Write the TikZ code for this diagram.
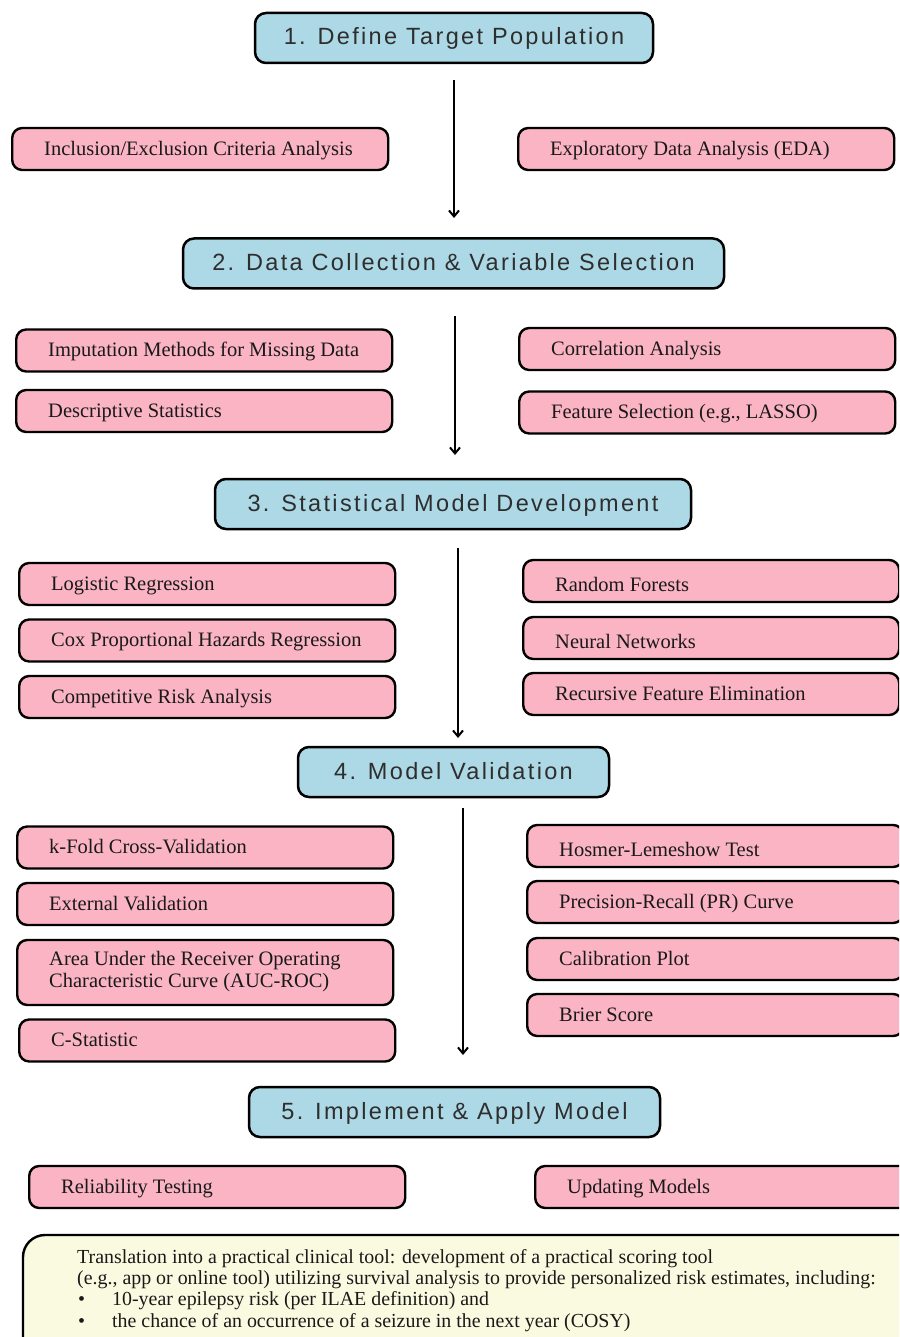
\documentclass[tikz,border=0pt]{standalone}
\usepackage{fontspec}
\setmainfont{Liberation Serif}
\newfontfamily\hdfont[LetterSpace=10]{Liberation Sans}
\usetikzlibrary{arrows.meta}
\definecolor{hdblue}{HTML}{ADD8E6}
\definecolor{boxpink}{HTML}{FBB4C3}
\definecolor{noteyellow}{HTML}{FAFAE1}
\definecolor{hdtext}{HTML}{2E2E2E}
\newcommand{\bxt}[1]{\makebox[312pt][l]{#1}}
\begin{document}
\begin{tikzpicture}[x=1pt,y=-1pt,
  header/.style={draw=black, line width=2.5pt, fill=hdblue, rounded corners=11pt,
    minimum height=50pt, inner sep=0pt, text height=19pt, text depth=5pt,
    font=\hdfont\fontsize{23.5}{26}\selectfont, text=hdtext},
  pinkbase/.style={draw=black, line width=2.4pt, fill=boxpink, rounded corners=10pt,
    minimum width=376pt, minimum height=42pt, inner xsep=32pt, inner ysep=0pt,
    align=left, anchor=west, font=\fontsize{20.5}{22}\selectfont, text=black!90},
  pinkbox/.style={pinkbase, text height=16.6pt, text depth=4pt},
  pinklow/.style={pinkbase, text height=25pt, text depth=4pt},
  flow/.style={line width=2pt, -{Straight Barb[length=6pt,width=10pt]}}
]
\useasboundingbox (0,0) rectangle (899,1337);
\clip (0,0) rectangle (899,1337);
\fill[white] (0,0) rectangle (899,1337);

% headers
\node[header, minimum width=398pt] (h1) at (454,38) {1. Define Target Population};
\node[header, minimum width=541pt] (h2) at (453.5,263.5) {2. Data Collection \& Variable Selection};
\node[header, minimum width=476pt] (h3) at (453,504) {3. Statistical Model Development};
\node[header, minimum width=311pt] (h4) at (453.5,772) {4. Model Validation};
\node[header, minimum width=411pt] (h5) at (454.5,1112) {5. Implement \& Apply Model};

% arrows
\coordinate (a1s) at (454,80);  \coordinate (a1e) at (454,218);
\coordinate (a2s) at (455,316); \coordinate (a2e) at (455,455);
\coordinate (a3s) at (458,548); \coordinate (a3e) at (458,738);
\coordinate (a4s) at (463,808); \coordinate (a4e) at (463,1055);
\draw[flow] (a1s) -- (a1e);
\draw[flow] (a2s) -- (a2e);
\draw[flow] (a3s) -- (a3e);
\draw[flow] (a4s) -- (a4e);

% stage 1
\node[pinkbox] (incl) at (11,149) {\bxt{Inclusion/Exclusion Criteria Analysis}};
\node[pinkbox] (eda) at (517,149) {\bxt{Exploratory Data Analysis (EDA)}};

% stage 2
\node[pinkbox] (imp) at (15,350.5) {\bxt{Imputation Methods for Missing Data}};
\node[pinkbox] (desc) at (15,411) {\bxt{Descriptive Statistics}};
\node[pinkbox] (corr) at (518,349) {\bxt{Correlation Analysis}};
\node[pinkbox] (feat) at (518,412.5) {\bxt{Feature Selection (e.g., LASSO)}};

% stage 3
\node[pinkbox] (logr) at (18,584) {\bxt{Logistic Regression}};
\node[pinkbox] (cox) at (18,640.5) {\bxt{Cox Proportional Hazards Regression}};
\node[pinkbox] (comp) at (18,697) {\bxt{Competitive Risk Analysis}};
\node[pinklow] (rf) at (522,581) {\bxt{Random Forests}};
\node[pinklow] (nn) at (522,638) {\bxt{Neural Networks}};
\node[pinkbox] (rfe) at (522,694) {\bxt{Recursive Feature Elimination}};

% stage 4
\node[pinkbox] (kfold) at (16,847.5) {\bxt{k-Fold Cross-Validation}};
\node[pinkbox] (ext) at (16,904) {\bxt{External Validation}};
\node[pinkbase, minimum height=65pt] (auc) at (16,972.5) {\bxt{\begin{tabular}{@{}l@{}}Area Under the Receiver Operating\\Characteristic Curve (AUC-ROC)\end{tabular}}};
\node[pinkbox] (cstat) at (18,1040.5) {\bxt{C-Statistic}};
\node[pinklow] (hos) at (526,846) {\bxt{Hosmer-Lemeshow Test}};
\node[pinkbox] (prc) at (526,902) {\bxt{Precision-Recall (PR) Curve}};
\node[pinkbox] (cal) at (526,959) {\bxt{Calibration Plot}};
\node[pinkbox] (brier) at (526,1015) {\bxt{Brier Score}};

% stage 5
\node[pinkbox] (rel) at (28,1187) {\bxt{Reliability Testing}};
\node[pinkbox] (upd) at (534,1187) {\bxt{Updating Models}};

% bottom note
\draw[line width=2.4pt, fill=noteyellow, rounded corners=22pt] (23,1235) rectangle (940,1380);
\node[anchor=north west, inner sep=0pt, align=left, font=\fontsize{19.9}{21.3}\selectfont, text=black!90] (note) at (77,1249)
{Translation into a practical clinical tool: development of a practical scoring tool\\
(e.g., app or online tool) utilizing survival analysis to provide personalized risk estimates, including:\\
\makebox[35pt][l]{\hspace{1pt}\textbullet}10-year epilepsy risk (per ILAE definition) and\\
\makebox[35pt][l]{\hspace{1pt}\textbullet}the chance of an occurrence of a seizure in the next year (COSY)};
\end{tikzpicture}
\end{document}
